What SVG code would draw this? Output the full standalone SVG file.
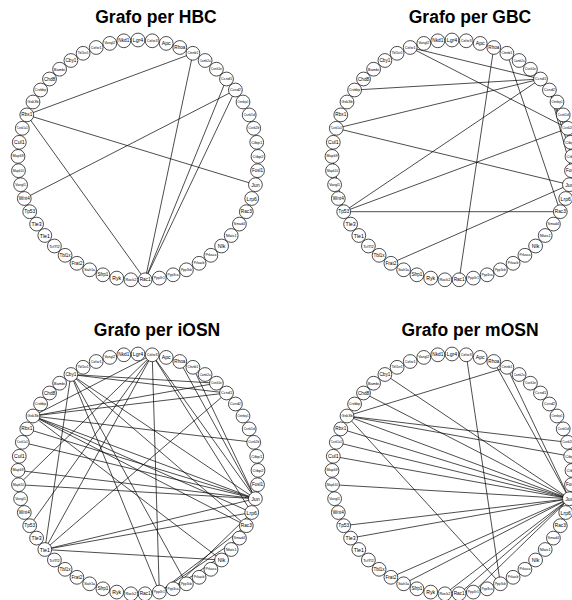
<svg xmlns="http://www.w3.org/2000/svg" width="572" height="600" viewBox="0 0 572 600">
<style>
.bg{fill:#fff}
.t{font-family:"Liberation Sans",Arial,sans-serif;font-weight:bold;font-size:17.5px;text-anchor:middle;fill:#000}
.n circle{fill:#fff;stroke:#000;stroke-width:0.7}
.n text{font-family:"Liberation Sans",Arial,sans-serif;text-anchor:middle;dominant-baseline:central;fill:#000}
.e line{stroke:#000;stroke-width:0.7}
</style>
<rect class="bg" width="572" height="600"/>
<text class="t" x="156" y="23">Grafo per HBC</text>
<text class="t" x="470" y="23">Grafo per GBC</text>
<text class="t" x="157" y="336">Grafo per iOSN</text>
<text class="t" x="470" y="336">Grafo per mOSN</text>

<g id="panel-hbc" transform="translate(138,160)">
<g id="hbc-edges" class="e">
<line x1="-111.2" y1="-45.1" x2="54.9" y2="-106.7"/>
<line x1="-111.2" y1="-45.1" x2="117.4" y2="24.7"/>
<line x1="-111.2" y1="-45.1" x2="7.1" y2="119.8"/>
<line x1="-113.7" y1="38.5" x2="97.4" y2="-70"/>
<line x1="7.1" y1="119.8" x2="54.9" y2="-106.7"/>
<line x1="7.1" y1="119.8" x2="88.5" y2="-81"/>
<line x1="7.1" y1="119.8" x2="97.4" y2="-70"/>
</g>
<g id="hbc-Lgr4" class="n" transform="translate(0,-120)"><circle r="6.9"/><text font-size="5.2">Lgr4</text></g>
<g id="hbc-Celsr3" class="n" transform="translate(14.2,-119.2)"><circle r="6.9"/><text font-size="3.8">Celsr3</text></g>
<g id="hbc-Apc" class="n" transform="translate(28.2,-116.6)"><circle r="6.9"/><text font-size="5.2">Apc</text></g>
<g id="hbc-Rhoa" class="n" transform="translate(41.8,-112.5)"><circle r="6.9"/><text font-size="4.6">Rhoa</text></g>
<g id="hbc-Ctnnb1" class="n" transform="translate(54.9,-106.7)"><circle r="6.9"/><text font-size="3.4">Ctnnb1</text></g>
<g id="hbc-Camk2a" class="n" transform="translate(67.1,-99.5)"><circle r="6.9"/><text font-size="2.95">Camk2a</text></g>
<g id="hbc-Csnk1e" class="n" transform="translate(78.4,-90.8)"><circle r="6.9"/><text font-size="3.25">Csnk1e</text></g>
<g id="hbc-Ccnd1" class="n" transform="translate(88.5,-81)"><circle r="6.9"/><text font-size="3.8">Ccnd1</text></g>
<g id="hbc-Ccnd2" class="n" transform="translate(97.4,-70)"><circle r="6.9"/><text font-size="3.8">Ccnd2</text></g>
<g id="hbc-Ctnnbip1" class="n" transform="translate(105,-58)"><circle r="6.9"/><text font-size="2.75">Ctnnbip1</text></g>
<g id="hbc-Csnk1d" class="n" transform="translate(111.2,-45.1)"><circle r="6.9"/><text font-size="3.25">Csnk1d</text></g>
<g id="hbc-Csnk2b" class="n" transform="translate(115.7,-31.7)"><circle r="6.9"/><text font-size="3.25">Csnk2b</text></g>
<g id="hbc-Ctbp1" class="n" transform="translate(118.7,-17.7)"><circle r="6.9"/><text font-size="4.1">Ctbp1</text></g>
<g id="hbc-Ctbp2" class="n" transform="translate(120,-3.6)"><circle r="6.9"/><text font-size="4.1">Ctbp2</text></g>
<g id="hbc-Fosl1" class="n" transform="translate(119.5,10.7)"><circle r="6.9"/><text font-size="4.5">Fosl1</text></g>
<g id="hbc-Jun" class="n" transform="translate(117.4,24.7)"><circle r="6.9"/><text font-size="5.2">Jun</text></g>
<g id="hbc-Lrp6" class="n" transform="translate(113.7,38.5)"><circle r="6.9"/><text font-size="5.2">Lrp6</text></g>
<g id="hbc-Rac3" class="n" transform="translate(108.3,51.7)"><circle r="6.9"/><text font-size="4.7">Rac3</text></g>
<g id="hbc-Smad4" class="n" transform="translate(101.4,64.1)"><circle r="6.9"/><text font-size="3.5">Smad4</text></g>
<g id="hbc-Nfatc1" class="n" transform="translate(93.2,75.5)"><circle r="6.9"/><text font-size="3.8">Nfatc1</text></g>
<g id="hbc-Nlk" class="n" transform="translate(83.6,86)"><circle r="6.9"/><text font-size="5.2">Nlk</text></g>
<g id="hbc-Prkaca" class="n" transform="translate(72.9,95.3)"><circle r="6.9"/><text font-size="3.5">Prkaca</text></g>
<g id="hbc-Prkacb" class="n" transform="translate(61.1,103.3)"><circle r="6.9"/><text font-size="3.5">Prkacb</text></g>
<g id="hbc-Ppp3cb" class="n" transform="translate(48.4,109.8)"><circle r="6.9"/><text font-size="3.25">Ppp3cb</text></g>
<g id="hbc-Ppp3ca" class="n" transform="translate(35.1,114.8)"><circle r="6.9"/><text font-size="3.25">Ppp3ca</text></g>
<g id="hbc-Ppp3r1" class="n" transform="translate(21.3,118.1)"><circle r="6.9"/><text font-size="3.4">Ppp3r1</text></g>
<g id="hbc-Rac1" class="n" transform="translate(7.1,119.8)"><circle r="6.9"/><text font-size="4.7">Rac1</text></g>
<g id="hbc-Rock2" class="n" transform="translate(-7.1,119.8)"><circle r="6.9"/><text font-size="3.9">Rock2</text></g>
<g id="hbc-Ryk" class="n" transform="translate(-21.3,118.1)"><circle r="6.9"/><text font-size="5.2">Ryk</text></g>
<g id="hbc-Sfrp1" class="n" transform="translate(-35.1,114.8)"><circle r="6.9"/><text font-size="4.6">Sfrp1</text></g>
<g id="hbc-Siah1a" class="n" transform="translate(-48.4,109.8)"><circle r="6.9"/><text font-size="3.5">Siah1a</text></g>
<g id="hbc-Frat2" class="n" transform="translate(-61.1,103.3)"><circle r="6.9"/><text font-size="4.7">Frat2</text></g>
<g id="hbc-Tbl1x" class="n" transform="translate(-72.9,95.3)"><circle r="6.9"/><text font-size="4.5">Tbl1x</text></g>
<g id="hbc-Tcf7l2" class="n" transform="translate(-83.6,86)"><circle r="6.9"/><text font-size="4">Tcf7l2</text></g>
<g id="hbc-Tle1" class="n" transform="translate(-93.2,75.5)"><circle r="6.9"/><text font-size="5.2">Tle1</text></g>
<g id="hbc-Tle3" class="n" transform="translate(-101.4,64.1)"><circle r="6.9"/><text font-size="5.2">Tle3</text></g>
<g id="hbc-Tp53" class="n" transform="translate(-108.3,51.7)"><circle r="6.9"/><text font-size="4.8">Tp53</text></g>
<g id="hbc-Wnt4" class="n" transform="translate(-113.7,38.5)"><circle r="6.9"/><text font-size="4.7">Wnt4</text></g>
<g id="hbc-Vangl1" class="n" transform="translate(-117.4,24.7)"><circle r="6.9"/><text font-size="3.5">Vangl1</text></g>
<g id="hbc-Mapk10" class="n" transform="translate(-119.5,10.7)"><circle r="6.9"/><text font-size="3.1">Mapk10</text></g>
<g id="hbc-Mapk9" class="n" transform="translate(-120,-3.6)"><circle r="6.9"/><text font-size="3.7">Mapk9</text></g>
<g id="hbc-Cul1" class="n" transform="translate(-118.7,-17.7)"><circle r="6.9"/><text font-size="5.2">Cul1</text></g>
<g id="hbc-Csnk1a1" class="n" transform="translate(-115.7,-31.7)"><circle r="6.9"/><text font-size="2.8">Csnk1a1</text></g>
<g id="hbc-Rbx1" class="n" transform="translate(-111.2,-45.1)"><circle r="6.9"/><text font-size="4.7">Rbx1</text></g>
<g id="hbc-Gsk3b" class="n" transform="translate(-105,-58)"><circle r="6.9"/><text font-size="3.8">Gsk3b</text></g>
<g id="hbc-Crebbp" class="n" transform="translate(-97.4,-70)"><circle r="6.9"/><text font-size="3.35">Crebbp</text></g>
<g id="hbc-Chd8" class="n" transform="translate(-88.5,-81)"><circle r="6.9"/><text font-size="4.7">Chd8</text></g>
<g id="hbc-Bambi" class="n" transform="translate(-78.4,-90.8)"><circle r="6.9"/><text font-size="3.9">Bambi</text></g>
<g id="hbc-Cby1" class="n" transform="translate(-67.1,-99.5)"><circle r="6.9"/><text font-size="4.7">Cby1</text></g>
<g id="hbc-Tbl1xr1" class="n" transform="translate(-54.9,-106.7)"><circle r="6.9"/><text font-size="3.3">Tbl1xr1</text></g>
<g id="hbc-Celsr1" class="n" transform="translate(-41.8,-112.5)"><circle r="6.9"/><text font-size="3.8">Celsr1</text></g>
<g id="hbc-Vangl2" class="n" transform="translate(-28.2,-116.6)"><circle r="6.9"/><text font-size="3.5">Vangl2</text></g>
<g id="hbc-Nkd1" class="n" transform="translate(-14.2,-119.2)"><circle r="6.9"/><text font-size="4.7">Nkd1</text></g>
</g>

<g id="panel-gbc" transform="translate(452,160)">
<g id="gbc-edges" class="e">
<line x1="-41.8" y1="-112.5" x2="88.5" y2="-81"/>
<line x1="-41.8" y1="-112.5" x2="115.7" y2="-31.7"/>
<line x1="-97.4" y1="-70" x2="88.5" y2="-81"/>
<line x1="-115.7" y1="-31.7" x2="88.5" y2="-81"/>
<line x1="-115.7" y1="-31.7" x2="117.4" y2="24.7"/>
<line x1="-108.3" y1="51.7" x2="88.5" y2="-81"/>
<line x1="-108.3" y1="51.7" x2="115.7" y2="-31.7"/>
<line x1="-108.3" y1="51.7" x2="108.3" y2="51.7"/>
<line x1="-120" y1="-3.6" x2="-108.3" y2="51.7"/>
<line x1="-61.1" y1="103.3" x2="117.4" y2="24.7"/>
<line x1="41.8" y1="-112.5" x2="7.1" y2="119.8"/>
<line x1="54.9" y1="-106.7" x2="108.3" y2="51.7"/>
<line x1="97.4" y1="-70" x2="118.7" y2="-17.7"/>
<line x1="97.4" y1="-70" x2="120" y2="-3.6"/>
<line x1="97.4" y1="-70" x2="119.5" y2="10.7"/>
</g>
<g id="gbc-Lgr4" class="n" transform="translate(0,-120)"><circle r="6.9"/><text font-size="5.2">Lgr4</text></g>
<g id="gbc-Celsr3" class="n" transform="translate(14.2,-119.2)"><circle r="6.9"/><text font-size="3.8">Celsr3</text></g>
<g id="gbc-Apc" class="n" transform="translate(28.2,-116.6)"><circle r="6.9"/><text font-size="5.2">Apc</text></g>
<g id="gbc-Rhoa" class="n" transform="translate(41.8,-112.5)"><circle r="6.9"/><text font-size="4.6">Rhoa</text></g>
<g id="gbc-Ctnnb1" class="n" transform="translate(54.9,-106.7)"><circle r="6.9"/><text font-size="3.4">Ctnnb1</text></g>
<g id="gbc-Camk2a" class="n" transform="translate(67.1,-99.5)"><circle r="6.9"/><text font-size="2.95">Camk2a</text></g>
<g id="gbc-Csnk1e" class="n" transform="translate(78.4,-90.8)"><circle r="6.9"/><text font-size="3.25">Csnk1e</text></g>
<g id="gbc-Ccnd1" class="n" transform="translate(88.5,-81)"><circle r="6.9"/><text font-size="3.8">Ccnd1</text></g>
<g id="gbc-Ccnd2" class="n" transform="translate(97.4,-70)"><circle r="6.9"/><text font-size="3.8">Ccnd2</text></g>
<g id="gbc-Ctnnbip1" class="n" transform="translate(105,-58)"><circle r="6.9"/><text font-size="2.75">Ctnnbip1</text></g>
<g id="gbc-Csnk1d" class="n" transform="translate(111.2,-45.1)"><circle r="6.9"/><text font-size="3.25">Csnk1d</text></g>
<g id="gbc-Csnk2b" class="n" transform="translate(115.7,-31.7)"><circle r="6.9"/><text font-size="3.25">Csnk2b</text></g>
<g id="gbc-Ctbp1" class="n" transform="translate(118.7,-17.7)"><circle r="6.9"/><text font-size="4.1">Ctbp1</text></g>
<g id="gbc-Ctbp2" class="n" transform="translate(120,-3.6)"><circle r="6.9"/><text font-size="4.1">Ctbp2</text></g>
<g id="gbc-Fosl1" class="n" transform="translate(119.5,10.7)"><circle r="6.9"/><text font-size="4.5">Fosl1</text></g>
<g id="gbc-Jun" class="n" transform="translate(117.4,24.7)"><circle r="6.9"/><text font-size="5.2">Jun</text></g>
<g id="gbc-Lrp6" class="n" transform="translate(113.7,38.5)"><circle r="6.9"/><text font-size="5.2">Lrp6</text></g>
<g id="gbc-Rac3" class="n" transform="translate(108.3,51.7)"><circle r="6.9"/><text font-size="4.7">Rac3</text></g>
<g id="gbc-Smad4" class="n" transform="translate(101.4,64.1)"><circle r="6.9"/><text font-size="3.5">Smad4</text></g>
<g id="gbc-Nfatc1" class="n" transform="translate(93.2,75.5)"><circle r="6.9"/><text font-size="3.8">Nfatc1</text></g>
<g id="gbc-Nlk" class="n" transform="translate(83.6,86)"><circle r="6.9"/><text font-size="5.2">Nlk</text></g>
<g id="gbc-Prkaca" class="n" transform="translate(72.9,95.3)"><circle r="6.9"/><text font-size="3.5">Prkaca</text></g>
<g id="gbc-Prkacb" class="n" transform="translate(61.1,103.3)"><circle r="6.9"/><text font-size="3.5">Prkacb</text></g>
<g id="gbc-Ppp3cb" class="n" transform="translate(48.4,109.8)"><circle r="6.9"/><text font-size="3.25">Ppp3cb</text></g>
<g id="gbc-Ppp3ca" class="n" transform="translate(35.1,114.8)"><circle r="6.9"/><text font-size="3.25">Ppp3ca</text></g>
<g id="gbc-Ppp3r1" class="n" transform="translate(21.3,118.1)"><circle r="6.9"/><text font-size="3.4">Ppp3r1</text></g>
<g id="gbc-Rac1" class="n" transform="translate(7.1,119.8)"><circle r="6.9"/><text font-size="4.7">Rac1</text></g>
<g id="gbc-Rock2" class="n" transform="translate(-7.1,119.8)"><circle r="6.9"/><text font-size="3.9">Rock2</text></g>
<g id="gbc-Ryk" class="n" transform="translate(-21.3,118.1)"><circle r="6.9"/><text font-size="5.2">Ryk</text></g>
<g id="gbc-Sfrp1" class="n" transform="translate(-35.1,114.8)"><circle r="6.9"/><text font-size="4.6">Sfrp1</text></g>
<g id="gbc-Siah1a" class="n" transform="translate(-48.4,109.8)"><circle r="6.9"/><text font-size="3.5">Siah1a</text></g>
<g id="gbc-Frat2" class="n" transform="translate(-61.1,103.3)"><circle r="6.9"/><text font-size="4.7">Frat2</text></g>
<g id="gbc-Tbl1x" class="n" transform="translate(-72.9,95.3)"><circle r="6.9"/><text font-size="4.5">Tbl1x</text></g>
<g id="gbc-Tcf7l2" class="n" transform="translate(-83.6,86)"><circle r="6.9"/><text font-size="4">Tcf7l2</text></g>
<g id="gbc-Tle1" class="n" transform="translate(-93.2,75.5)"><circle r="6.9"/><text font-size="5.2">Tle1</text></g>
<g id="gbc-Tle3" class="n" transform="translate(-101.4,64.1)"><circle r="6.9"/><text font-size="5.2">Tle3</text></g>
<g id="gbc-Tp53" class="n" transform="translate(-108.3,51.7)"><circle r="6.9"/><text font-size="4.8">Tp53</text></g>
<g id="gbc-Wnt4" class="n" transform="translate(-113.7,38.5)"><circle r="6.9"/><text font-size="4.7">Wnt4</text></g>
<g id="gbc-Vangl1" class="n" transform="translate(-117.4,24.7)"><circle r="6.9"/><text font-size="3.5">Vangl1</text></g>
<g id="gbc-Mapk10" class="n" transform="translate(-119.5,10.7)"><circle r="6.9"/><text font-size="3.1">Mapk10</text></g>
<g id="gbc-Mapk9" class="n" transform="translate(-120,-3.6)"><circle r="6.9"/><text font-size="3.7">Mapk9</text></g>
<g id="gbc-Cul1" class="n" transform="translate(-118.7,-17.7)"><circle r="6.9"/><text font-size="5.2">Cul1</text></g>
<g id="gbc-Csnk1a1" class="n" transform="translate(-115.7,-31.7)"><circle r="6.9"/><text font-size="2.8">Csnk1a1</text></g>
<g id="gbc-Rbx1" class="n" transform="translate(-111.2,-45.1)"><circle r="6.9"/><text font-size="4.7">Rbx1</text></g>
<g id="gbc-Gsk3b" class="n" transform="translate(-105,-58)"><circle r="6.9"/><text font-size="3.8">Gsk3b</text></g>
<g id="gbc-Crebbp" class="n" transform="translate(-97.4,-70)"><circle r="6.9"/><text font-size="3.35">Crebbp</text></g>
<g id="gbc-Chd8" class="n" transform="translate(-88.5,-81)"><circle r="6.9"/><text font-size="4.7">Chd8</text></g>
<g id="gbc-Bambi" class="n" transform="translate(-78.4,-90.8)"><circle r="6.9"/><text font-size="3.9">Bambi</text></g>
<g id="gbc-Cby1" class="n" transform="translate(-67.1,-99.5)"><circle r="6.9"/><text font-size="4.7">Cby1</text></g>
<g id="gbc-Tbl1xr1" class="n" transform="translate(-54.9,-106.7)"><circle r="6.9"/><text font-size="3.3">Tbl1xr1</text></g>
<g id="gbc-Celsr1" class="n" transform="translate(-41.8,-112.5)"><circle r="6.9"/><text font-size="3.8">Celsr1</text></g>
<g id="gbc-Vangl2" class="n" transform="translate(-28.2,-116.6)"><circle r="6.9"/><text font-size="3.5">Vangl2</text></g>
<g id="gbc-Nkd1" class="n" transform="translate(-14.2,-119.2)"><circle r="6.9"/><text font-size="4.7">Nkd1</text></g>
</g>

<g id="panel-iosn" transform="translate(138,474)">
<g id="iosn-edges" class="e">
<line x1="-105" y1="-58" x2="14.2" y2="-119.2"/>
<line x1="-105" y1="-58" x2="78.4" y2="-90.8"/>
<line x1="-105" y1="-58" x2="88.5" y2="-81"/>
<line x1="-105" y1="-58" x2="115.7" y2="-31.7"/>
<line x1="-105" y1="-58" x2="117.4" y2="24.7"/>
<line x1="-105" y1="-58" x2="113.7" y2="38.5"/>
<line x1="-105" y1="-58" x2="108.3" y2="51.7"/>
<line x1="-105" y1="-58" x2="83.6" y2="86"/>
<line x1="-67.1" y1="-99.5" x2="78.4" y2="-90.8"/>
<line x1="-67.1" y1="-99.5" x2="88.5" y2="-81"/>
<line x1="-67.1" y1="-99.5" x2="117.4" y2="24.7"/>
<line x1="-67.1" y1="-99.5" x2="108.3" y2="51.7"/>
<line x1="-67.1" y1="-99.5" x2="48.4" y2="109.8"/>
<line x1="-67.1" y1="-99.5" x2="21.3" y2="118.1"/>
<line x1="-67.1" y1="-99.5" x2="-93.2" y2="75.5"/>
<line x1="14.2" y1="-119.2" x2="-93.2" y2="75.5"/>
<line x1="14.2" y1="-119.2" x2="-108.3" y2="51.7"/>
<line x1="14.2" y1="-119.2" x2="-119.5" y2="10.7"/>
<line x1="14.2" y1="-119.2" x2="21.3" y2="118.1"/>
<line x1="14.2" y1="-119.2" x2="117.4" y2="24.7"/>
<line x1="14.2" y1="-119.2" x2="113.7" y2="38.5"/>
<line x1="41.8" y1="-112.5" x2="117.4" y2="24.7"/>
<line x1="54.9" y1="-106.7" x2="117.4" y2="24.7"/>
<line x1="-93.2" y1="75.5" x2="88.5" y2="-81"/>
<line x1="-93.2" y1="75.5" x2="117.4" y2="24.7"/>
<line x1="-93.2" y1="75.5" x2="113.7" y2="38.5"/>
<line x1="-93.2" y1="75.5" x2="83.6" y2="86"/>
<line x1="-119.5" y1="10.7" x2="117.4" y2="24.7"/>
<line x1="-120" y1="-3.6" x2="117.4" y2="24.7"/>
<line x1="-115.7" y1="-31.7" x2="117.4" y2="24.7"/>
<line x1="-111.2" y1="-45.1" x2="117.4" y2="24.7"/>
<line x1="108.3" y1="51.7" x2="21.3" y2="118.1"/>
<line x1="101.4" y1="64.1" x2="21.3" y2="118.1"/>
<line x1="93.2" y1="75.5" x2="35.1" y2="114.8"/>
<line x1="113.7" y1="38.5" x2="35.1" y2="114.8"/>
</g>
<g id="iosn-Lgr4" class="n" transform="translate(0,-120)"><circle r="6.9"/><text font-size="5.2">Lgr4</text></g>
<g id="iosn-Celsr3" class="n" transform="translate(14.2,-119.2)"><circle r="6.9"/><text font-size="3.8">Celsr3</text></g>
<g id="iosn-Apc" class="n" transform="translate(28.2,-116.6)"><circle r="6.9"/><text font-size="5.2">Apc</text></g>
<g id="iosn-Rhoa" class="n" transform="translate(41.8,-112.5)"><circle r="6.9"/><text font-size="4.6">Rhoa</text></g>
<g id="iosn-Ctnnb1" class="n" transform="translate(54.9,-106.7)"><circle r="6.9"/><text font-size="3.4">Ctnnb1</text></g>
<g id="iosn-Camk2a" class="n" transform="translate(67.1,-99.5)"><circle r="6.9"/><text font-size="2.95">Camk2a</text></g>
<g id="iosn-Csnk1e" class="n" transform="translate(78.4,-90.8)"><circle r="6.9"/><text font-size="3.25">Csnk1e</text></g>
<g id="iosn-Ccnd1" class="n" transform="translate(88.5,-81)"><circle r="6.9"/><text font-size="3.8">Ccnd1</text></g>
<g id="iosn-Ccnd2" class="n" transform="translate(97.4,-70)"><circle r="6.9"/><text font-size="3.8">Ccnd2</text></g>
<g id="iosn-Ctnnbip1" class="n" transform="translate(105,-58)"><circle r="6.9"/><text font-size="2.75">Ctnnbip1</text></g>
<g id="iosn-Csnk1d" class="n" transform="translate(111.2,-45.1)"><circle r="6.9"/><text font-size="3.25">Csnk1d</text></g>
<g id="iosn-Csnk2b" class="n" transform="translate(115.7,-31.7)"><circle r="6.9"/><text font-size="3.25">Csnk2b</text></g>
<g id="iosn-Ctbp1" class="n" transform="translate(118.7,-17.7)"><circle r="6.9"/><text font-size="4.1">Ctbp1</text></g>
<g id="iosn-Ctbp2" class="n" transform="translate(120,-3.6)"><circle r="6.9"/><text font-size="4.1">Ctbp2</text></g>
<g id="iosn-Fosl1" class="n" transform="translate(119.5,10.7)"><circle r="6.9"/><text font-size="4.5">Fosl1</text></g>
<g id="iosn-Jun" class="n" transform="translate(117.4,24.7)"><circle r="6.9"/><text font-size="5.2">Jun</text></g>
<g id="iosn-Lrp6" class="n" transform="translate(113.7,38.5)"><circle r="6.9"/><text font-size="5.2">Lrp6</text></g>
<g id="iosn-Rac3" class="n" transform="translate(108.3,51.7)"><circle r="6.9"/><text font-size="4.7">Rac3</text></g>
<g id="iosn-Smad4" class="n" transform="translate(101.4,64.1)"><circle r="6.9"/><text font-size="3.5">Smad4</text></g>
<g id="iosn-Nfatc1" class="n" transform="translate(93.2,75.5)"><circle r="6.9"/><text font-size="3.8">Nfatc1</text></g>
<g id="iosn-Nlk" class="n" transform="translate(83.6,86)"><circle r="6.9"/><text font-size="5.2">Nlk</text></g>
<g id="iosn-Prkaca" class="n" transform="translate(72.9,95.3)"><circle r="6.9"/><text font-size="3.5">Prkaca</text></g>
<g id="iosn-Prkacb" class="n" transform="translate(61.1,103.3)"><circle r="6.9"/><text font-size="3.5">Prkacb</text></g>
<g id="iosn-Ppp3cb" class="n" transform="translate(48.4,109.8)"><circle r="6.9"/><text font-size="3.25">Ppp3cb</text></g>
<g id="iosn-Ppp3ca" class="n" transform="translate(35.1,114.8)"><circle r="6.9"/><text font-size="3.25">Ppp3ca</text></g>
<g id="iosn-Ppp3r1" class="n" transform="translate(21.3,118.1)"><circle r="6.9"/><text font-size="3.4">Ppp3r1</text></g>
<g id="iosn-Rac1" class="n" transform="translate(7.1,119.8)"><circle r="6.9"/><text font-size="4.7">Rac1</text></g>
<g id="iosn-Rock2" class="n" transform="translate(-7.1,119.8)"><circle r="6.9"/><text font-size="3.9">Rock2</text></g>
<g id="iosn-Ryk" class="n" transform="translate(-21.3,118.1)"><circle r="6.9"/><text font-size="5.2">Ryk</text></g>
<g id="iosn-Sfrp1" class="n" transform="translate(-35.1,114.8)"><circle r="6.9"/><text font-size="4.6">Sfrp1</text></g>
<g id="iosn-Siah1a" class="n" transform="translate(-48.4,109.8)"><circle r="6.9"/><text font-size="3.5">Siah1a</text></g>
<g id="iosn-Frat2" class="n" transform="translate(-61.1,103.3)"><circle r="6.9"/><text font-size="4.7">Frat2</text></g>
<g id="iosn-Tbl1x" class="n" transform="translate(-72.9,95.3)"><circle r="6.9"/><text font-size="4.5">Tbl1x</text></g>
<g id="iosn-Tcf7l2" class="n" transform="translate(-83.6,86)"><circle r="6.9"/><text font-size="4">Tcf7l2</text></g>
<g id="iosn-Tle1" class="n" transform="translate(-93.2,75.5)"><circle r="6.9"/><text font-size="5.2">Tle1</text></g>
<g id="iosn-Tle3" class="n" transform="translate(-101.4,64.1)"><circle r="6.9"/><text font-size="5.2">Tle3</text></g>
<g id="iosn-Tp53" class="n" transform="translate(-108.3,51.7)"><circle r="6.9"/><text font-size="4.8">Tp53</text></g>
<g id="iosn-Wnt4" class="n" transform="translate(-113.7,38.5)"><circle r="6.9"/><text font-size="4.7">Wnt4</text></g>
<g id="iosn-Vangl1" class="n" transform="translate(-117.4,24.7)"><circle r="6.9"/><text font-size="3.5">Vangl1</text></g>
<g id="iosn-Mapk10" class="n" transform="translate(-119.5,10.7)"><circle r="6.9"/><text font-size="3.1">Mapk10</text></g>
<g id="iosn-Mapk9" class="n" transform="translate(-120,-3.6)"><circle r="6.9"/><text font-size="3.7">Mapk9</text></g>
<g id="iosn-Cul1" class="n" transform="translate(-118.7,-17.7)"><circle r="6.9"/><text font-size="5.2">Cul1</text></g>
<g id="iosn-Csnk1a1" class="n" transform="translate(-115.7,-31.7)"><circle r="6.9"/><text font-size="2.8">Csnk1a1</text></g>
<g id="iosn-Rbx1" class="n" transform="translate(-111.2,-45.1)"><circle r="6.9"/><text font-size="4.7">Rbx1</text></g>
<g id="iosn-Gsk3b" class="n" transform="translate(-105,-58)"><circle r="6.9"/><text font-size="3.8">Gsk3b</text></g>
<g id="iosn-Crebbp" class="n" transform="translate(-97.4,-70)"><circle r="6.9"/><text font-size="3.35">Crebbp</text></g>
<g id="iosn-Chd8" class="n" transform="translate(-88.5,-81)"><circle r="6.9"/><text font-size="4.7">Chd8</text></g>
<g id="iosn-Bambi" class="n" transform="translate(-78.4,-90.8)"><circle r="6.9"/><text font-size="3.9">Bambi</text></g>
<g id="iosn-Cby1" class="n" transform="translate(-67.1,-99.5)"><circle r="6.9"/><text font-size="4.7">Cby1</text></g>
<g id="iosn-Tbl1xr1" class="n" transform="translate(-54.9,-106.7)"><circle r="6.9"/><text font-size="3.3">Tbl1xr1</text></g>
<g id="iosn-Celsr1" class="n" transform="translate(-41.8,-112.5)"><circle r="6.9"/><text font-size="3.8">Celsr1</text></g>
<g id="iosn-Vangl2" class="n" transform="translate(-28.2,-116.6)"><circle r="6.9"/><text font-size="3.5">Vangl2</text></g>
<g id="iosn-Nkd1" class="n" transform="translate(-14.2,-119.2)"><circle r="6.9"/><text font-size="4.7">Nkd1</text></g>
</g>

<g id="panel-mosn" transform="translate(452,474)">
<g id="mosn-edges" class="e">
<line x1="-105" y1="-58" x2="117.4" y2="24.7"/>
<line x1="-105" y1="-58" x2="115.7" y2="-31.7"/>
<line x1="-105" y1="-58" x2="118.7" y2="-17.7"/>
<line x1="-105" y1="-58" x2="54.9" y2="-106.7"/>
<line x1="-105" y1="-58" x2="48.4" y2="109.8"/>
<line x1="-111.2" y1="-45.1" x2="117.4" y2="24.7"/>
<line x1="-115.7" y1="-31.7" x2="117.4" y2="24.7"/>
<line x1="-118.7" y1="-17.7" x2="117.4" y2="24.7"/>
<line x1="-119.5" y1="10.7" x2="117.4" y2="24.7"/>
<line x1="-108.3" y1="51.7" x2="117.4" y2="24.7"/>
<line x1="-101.4" y1="64.1" x2="117.4" y2="24.7"/>
<line x1="-61.1" y1="103.3" x2="117.4" y2="24.7"/>
<line x1="-48.4" y1="109.8" x2="117.4" y2="24.7"/>
<line x1="7.1" y1="119.8" x2="117.4" y2="24.7"/>
<line x1="21.3" y1="118.1" x2="117.4" y2="24.7"/>
<line x1="-7.1" y1="119.8" x2="117.4" y2="24.7"/>
<line x1="14.2" y1="-119.2" x2="48.4" y2="109.8"/>
<line x1="41.8" y1="-112.5" x2="117.4" y2="24.7"/>
<line x1="54.9" y1="-106.7" x2="117.4" y2="24.7"/>
<line x1="-88.5" y1="-81" x2="117.4" y2="24.7"/>
<line x1="-67.1" y1="-99.5" x2="117.4" y2="24.7"/>
</g>
<g id="mosn-Lgr4" class="n" transform="translate(0,-120)"><circle r="6.9"/><text font-size="5.2">Lgr4</text></g>
<g id="mosn-Celsr3" class="n" transform="translate(14.2,-119.2)"><circle r="6.9"/><text font-size="3.8">Celsr3</text></g>
<g id="mosn-Apc" class="n" transform="translate(28.2,-116.6)"><circle r="6.9"/><text font-size="5.2">Apc</text></g>
<g id="mosn-Rhoa" class="n" transform="translate(41.8,-112.5)"><circle r="6.9"/><text font-size="4.6">Rhoa</text></g>
<g id="mosn-Ctnnb1" class="n" transform="translate(54.9,-106.7)"><circle r="6.9"/><text font-size="3.4">Ctnnb1</text></g>
<g id="mosn-Camk2a" class="n" transform="translate(67.1,-99.5)"><circle r="6.9"/><text font-size="2.95">Camk2a</text></g>
<g id="mosn-Csnk1e" class="n" transform="translate(78.4,-90.8)"><circle r="6.9"/><text font-size="3.25">Csnk1e</text></g>
<g id="mosn-Ccnd1" class="n" transform="translate(88.5,-81)"><circle r="6.9"/><text font-size="3.8">Ccnd1</text></g>
<g id="mosn-Ccnd2" class="n" transform="translate(97.4,-70)"><circle r="6.9"/><text font-size="3.8">Ccnd2</text></g>
<g id="mosn-Ctnnbip1" class="n" transform="translate(105,-58)"><circle r="6.9"/><text font-size="2.75">Ctnnbip1</text></g>
<g id="mosn-Csnk1d" class="n" transform="translate(111.2,-45.1)"><circle r="6.9"/><text font-size="3.25">Csnk1d</text></g>
<g id="mosn-Csnk2b" class="n" transform="translate(115.7,-31.7)"><circle r="6.9"/><text font-size="3.25">Csnk2b</text></g>
<g id="mosn-Ctbp1" class="n" transform="translate(118.7,-17.7)"><circle r="6.9"/><text font-size="4.1">Ctbp1</text></g>
<g id="mosn-Ctbp2" class="n" transform="translate(120,-3.6)"><circle r="6.9"/><text font-size="4.1">Ctbp2</text></g>
<g id="mosn-Fosl1" class="n" transform="translate(119.5,10.7)"><circle r="6.9"/><text font-size="4.5">Fosl1</text></g>
<g id="mosn-Jun" class="n" transform="translate(117.4,24.7)"><circle r="6.9"/><text font-size="5.2">Jun</text></g>
<g id="mosn-Lrp6" class="n" transform="translate(113.7,38.5)"><circle r="6.9"/><text font-size="5.2">Lrp6</text></g>
<g id="mosn-Rac3" class="n" transform="translate(108.3,51.7)"><circle r="6.9"/><text font-size="4.7">Rac3</text></g>
<g id="mosn-Smad4" class="n" transform="translate(101.4,64.1)"><circle r="6.9"/><text font-size="3.5">Smad4</text></g>
<g id="mosn-Nfatc1" class="n" transform="translate(93.2,75.5)"><circle r="6.9"/><text font-size="3.8">Nfatc1</text></g>
<g id="mosn-Nlk" class="n" transform="translate(83.6,86)"><circle r="6.9"/><text font-size="5.2">Nlk</text></g>
<g id="mosn-Prkaca" class="n" transform="translate(72.9,95.3)"><circle r="6.9"/><text font-size="3.5">Prkaca</text></g>
<g id="mosn-Prkacb" class="n" transform="translate(61.1,103.3)"><circle r="6.9"/><text font-size="3.5">Prkacb</text></g>
<g id="mosn-Ppp3cb" class="n" transform="translate(48.4,109.8)"><circle r="6.9"/><text font-size="3.25">Ppp3cb</text></g>
<g id="mosn-Ppp3ca" class="n" transform="translate(35.1,114.8)"><circle r="6.9"/><text font-size="3.25">Ppp3ca</text></g>
<g id="mosn-Ppp3r1" class="n" transform="translate(21.3,118.1)"><circle r="6.9"/><text font-size="3.4">Ppp3r1</text></g>
<g id="mosn-Rac1" class="n" transform="translate(7.1,119.8)"><circle r="6.9"/><text font-size="4.7">Rac1</text></g>
<g id="mosn-Rock2" class="n" transform="translate(-7.1,119.8)"><circle r="6.9"/><text font-size="3.9">Rock2</text></g>
<g id="mosn-Ryk" class="n" transform="translate(-21.3,118.1)"><circle r="6.9"/><text font-size="5.2">Ryk</text></g>
<g id="mosn-Sfrp1" class="n" transform="translate(-35.1,114.8)"><circle r="6.9"/><text font-size="4.6">Sfrp1</text></g>
<g id="mosn-Siah1a" class="n" transform="translate(-48.4,109.8)"><circle r="6.9"/><text font-size="3.5">Siah1a</text></g>
<g id="mosn-Frat2" class="n" transform="translate(-61.1,103.3)"><circle r="6.9"/><text font-size="4.7">Frat2</text></g>
<g id="mosn-Tbl1x" class="n" transform="translate(-72.9,95.3)"><circle r="6.9"/><text font-size="4.5">Tbl1x</text></g>
<g id="mosn-Tcf7l2" class="n" transform="translate(-83.6,86)"><circle r="6.9"/><text font-size="4">Tcf7l2</text></g>
<g id="mosn-Tle1" class="n" transform="translate(-93.2,75.5)"><circle r="6.9"/><text font-size="5.2">Tle1</text></g>
<g id="mosn-Tle3" class="n" transform="translate(-101.4,64.1)"><circle r="6.9"/><text font-size="5.2">Tle3</text></g>
<g id="mosn-Tp53" class="n" transform="translate(-108.3,51.7)"><circle r="6.9"/><text font-size="4.8">Tp53</text></g>
<g id="mosn-Wnt4" class="n" transform="translate(-113.7,38.5)"><circle r="6.9"/><text font-size="4.7">Wnt4</text></g>
<g id="mosn-Vangl1" class="n" transform="translate(-117.4,24.7)"><circle r="6.9"/><text font-size="3.5">Vangl1</text></g>
<g id="mosn-Mapk10" class="n" transform="translate(-119.5,10.7)"><circle r="6.9"/><text font-size="3.1">Mapk10</text></g>
<g id="mosn-Mapk9" class="n" transform="translate(-120,-3.6)"><circle r="6.9"/><text font-size="3.7">Mapk9</text></g>
<g id="mosn-Cul1" class="n" transform="translate(-118.7,-17.7)"><circle r="6.9"/><text font-size="5.2">Cul1</text></g>
<g id="mosn-Csnk1a1" class="n" transform="translate(-115.7,-31.7)"><circle r="6.9"/><text font-size="2.8">Csnk1a1</text></g>
<g id="mosn-Rbx1" class="n" transform="translate(-111.2,-45.1)"><circle r="6.9"/><text font-size="4.7">Rbx1</text></g>
<g id="mosn-Gsk3b" class="n" transform="translate(-105,-58)"><circle r="6.9"/><text font-size="3.8">Gsk3b</text></g>
<g id="mosn-Crebbp" class="n" transform="translate(-97.4,-70)"><circle r="6.9"/><text font-size="3.35">Crebbp</text></g>
<g id="mosn-Chd8" class="n" transform="translate(-88.5,-81)"><circle r="6.9"/><text font-size="4.7">Chd8</text></g>
<g id="mosn-Bambi" class="n" transform="translate(-78.4,-90.8)"><circle r="6.9"/><text font-size="3.9">Bambi</text></g>
<g id="mosn-Cby1" class="n" transform="translate(-67.1,-99.5)"><circle r="6.9"/><text font-size="4.7">Cby1</text></g>
<g id="mosn-Tbl1xr1" class="n" transform="translate(-54.9,-106.7)"><circle r="6.9"/><text font-size="3.3">Tbl1xr1</text></g>
<g id="mosn-Celsr1" class="n" transform="translate(-41.8,-112.5)"><circle r="6.9"/><text font-size="3.8">Celsr1</text></g>
<g id="mosn-Vangl2" class="n" transform="translate(-28.2,-116.6)"><circle r="6.9"/><text font-size="3.5">Vangl2</text></g>
<g id="mosn-Nkd1" class="n" transform="translate(-14.2,-119.2)"><circle r="6.9"/><text font-size="4.7">Nkd1</text></g>
</g>
</svg>
